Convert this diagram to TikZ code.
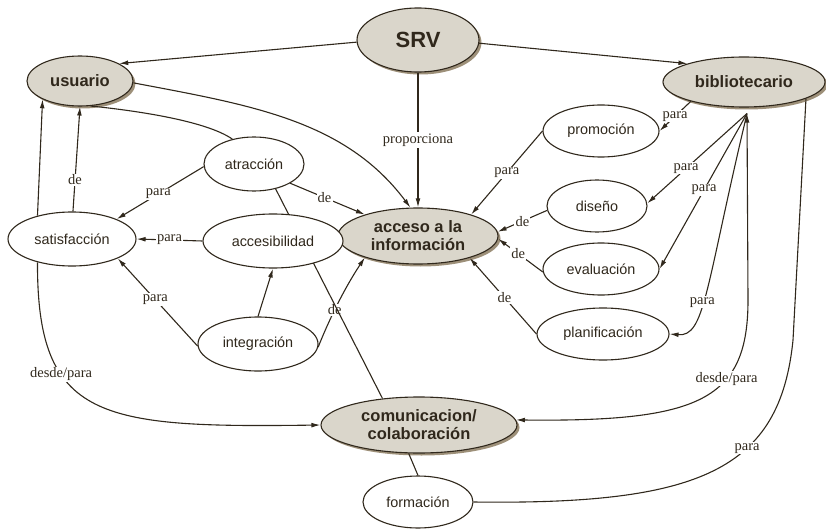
\documentclass[tikz,border=0pt]{standalone}
\usepackage{fontspec}
\setmainfont{Liberation Serif}
\setsansfont{Liberation Sans}
\usetikzlibrary{shapes.geometric,arrows.meta,shadows}
\pgfdeclarelayer{front}
\pgfsetlayers{main,front}

\definecolor{ink}{RGB}{48,40,28}
\definecolor{sand}{RGB}{218,214,203}
\definecolor{shade}{RGB}{140,124,98}

\tikzset{
  cnode/.style={ellipse, draw=ink, line width=1.1pt, fill=white, inner sep=0pt,
    text=ink, align=center, font=\sffamily\fontsize{14.4}{16}\selectfont},
  knode/.style={cnode, fill=sand, font=\sffamily\bfseries\fontsize{16.5}{18}\selectfont,
    drop shadow={shadow xshift=2.5pt, shadow yshift=-2.5pt, fill=shade, opacity=0.85}},
  wire/.style={draw=ink, line width=1.1pt},
  wirearrow/.style={wire, -{Latex[length=9pt,width=4.8pt]}},
  wlabel/.style={fill=white, inner sep=1.2pt, text=ink, font=\fontsize{14.5}{14.5}\selectfont},
}

\begin{document}
\begin{tikzpicture}[x=1pt, y=-1pt]
\useasboundingbox (0,0) rectangle (826,529);

% concepts
\node[knode, minimum width=122pt, minimum height=64pt,
      font=\sffamily\bfseries\fontsize{22}{24}\selectfont] (srv) at (418,40) {SRV};
\node[knode, minimum width=106pt, minimum height=50pt] (usu) at (80,81) {usuario};
\node[knode, minimum width=162pt, minimum height=50pt] (bib) at (744,82) {bibliotecario};
\node[knode, minimum width=160pt, minimum height=56pt] (ai) at (418,236) {acceso a la\\información};
\node[knode, minimum width=196pt, minimum height=56pt] (com) at (419,425) {comunicacion/\\colaboración};
\node[cnode, minimum width=100pt, minimum height=54pt] (atr) at (254,164) {atracción};
\node[cnode, minimum width=128pt, minimum height=54pt] (sat) at (72,239) {satisfacción};
\begin{pgfonlayer}{front}
\node[cnode, minimum width=140pt, minimum height=54pt] (acc) at (273,241) {accesibilidad};
\end{pgfonlayer}
\node[cnode, minimum width=120pt, minimum height=54pt] (intg) at (258,344) {integración};
\node[cnode, minimum width=110pt, minimum height=52pt] (frm) at (418,502) {formación};
\node[cnode, minimum width=116pt, minimum height=52pt] (pro) at (601,131) {promoción};
\node[cnode, minimum width=100pt, minimum height=52pt] (dis) at (597,206) {diseño};
\node[cnode, minimum width=116pt, minimum height=52pt] (eva) at (601,269) {evaluación};
\node[cnode, minimum width=132pt, minimum height=52pt] (pla) at (603,334) {planificación};

\coordinate (hub) at ([xshift=3pt,yshift=-6pt]bib.south);

% SRV
\draw[wirearrow] (srv.182) -- (usu.24);
\draw[wirearrow] (srv.-3) -- (bib.162);
\draw[wirearrow] (srv.south) -- node[wlabel]{proporciona} (ai.north);

% usuario side
\draw[wirearrow] (usu.-2) .. controls (250,105) and (345,120) .. (ai.105);
\draw[wire] (atr.131) .. controls (205,120) and (130,110) .. (usu.-67);
\draw[wirearrow] (sat.146) -- (usu.206);
\draw[wirearrow] (sat.88) -- node[wlabel,pos=0.3]{de} (usu.south);
\draw[wirearrow] (atr.183) -- node[wlabel,pos=0.52]{para} (sat.24);
\draw[wirearrow] (atr.-28) -- node[wlabel,pos=0.46]{de} (ai.158);
\draw[wirearrow] (acc.west) -- node[wlabel]{para} (sat.east);
\draw[wirearrow] (intg.182) -- node[wlabel,pos=0.53]{para} (sat.-23);
\draw[wirearrow] (intg.north) -- (acc.south);
\draw[wirearrow] (intg.-3) .. controls (325,330) and (340,295) .. (ai.202) node[wlabel,pos=0.5]{de};
\draw[wirearrow] (sat.214) .. controls (37,420) and (100,428) .. (com.west) node[wlabel,pos=0.33]{desde/para};
\draw[wire] (atr.-49) -- (com.144);

% bibliotecario side
\draw[wire, {Latex[length=9pt,width=4.8pt]}-{Latex[length=9pt,width=4.8pt]}]
  (hub) -- (748,300) .. controls (748,400) and (700,422) .. (com.3) node[wlabel,pos=0.35]{desde/para};
\draw[wirearrow] (bib.200) -- node[wlabel]{para} (pro.east);
\draw[wirearrow] (hub) -- node[wlabel,pos=0.61]{para} (dis.3);
\draw[wirearrow] (hub) -- node[wlabel,pos=0.49]{para} (eva.east);
\draw[wirearrow] (hub) .. controls (705,290) and (705,337) .. (pla.east) node[wlabel,pos=0.56]{para};
\draw[wire] (bib.-15) -- (793,340) .. controls (780,470) and (700,505) .. (frm.east) node[wlabel,pos=0.37]{para};

% into acceso a la información
\draw[wirearrow] (pro.west) -- node[wlabel]{para} (ai.22);
\draw[wirearrow] (dis.185) -- node[wlabel]{de} (ai.3);
\draw[wirearrow] (eva.183) -- node[wlabel,pos=0.55]{de} (ai.-2);
\draw[wirearrow] (pla.west) -- node[wlabel,pos=0.48]{de} (ai.-23);

% comunicacion / formación
\draw[wire] (com.-110) -- (frm.north);
\end{tikzpicture}
\end{document}
